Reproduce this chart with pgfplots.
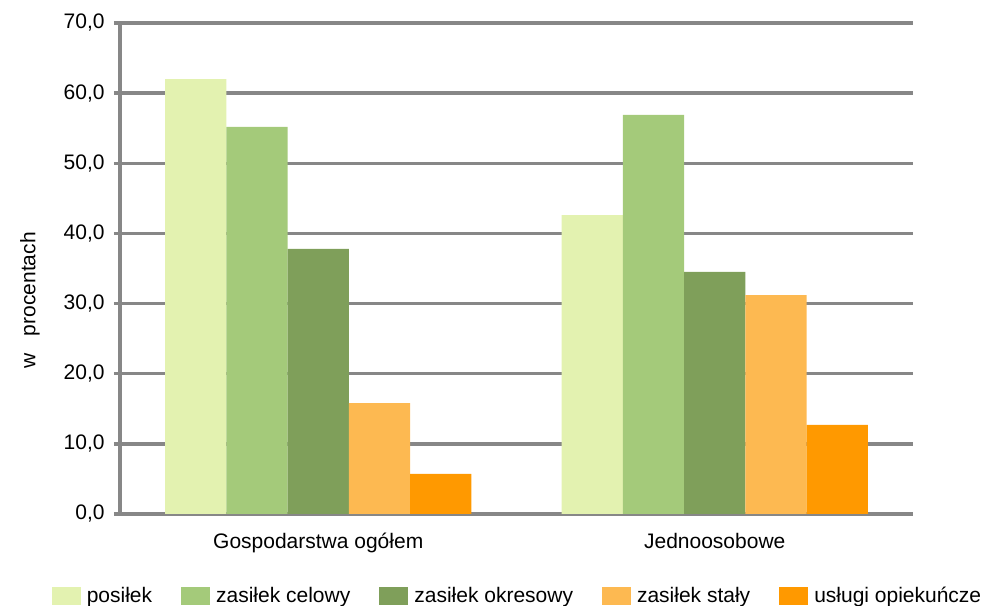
\documentclass[border=0pt]{standalone}
\usepackage{pgfplots}
\pgfplotsset{compat=1.18}
\usepackage{fontspec}
\setmainfont{Liberation Sans}

\definecolor{cPos}{HTML}{E3F2B0}
\definecolor{cCel}{HTML}{A4CA7A}
\definecolor{cOkr}{HTML}{7F9F5A}
\definecolor{cSta}{HTML}{FDB951}
\definecolor{cUsl}{HTML}{FF9900}
\definecolor{cAx}{HTML}{878787}

\begin{document}
\fontsize{10.5}{12.5}\selectfont
\begin{tikzpicture}
\begin{axis}[
    scale only axis,
    width=396.5pt, height=245.5pt,
    ybar=0pt, bar width=0.1544,
    xmin=-0.5, xmax=1.5,
    ymin=0, ymax=70,
    xtick={0,1},
    xticklabels={Gospodarstwa ogółem, Jednoosobowe},
    major x tick style={draw=none},
    extra x ticks={-0.5,0.5,1.5},
    extra x tick labels={},
    extra x tick style={major tick length=3pt, tick style={draw=cAx, line width=1.75pt}},
    ytick={0,10,...,70},
    yticklabel style={xshift=-1pt, /pgf/number format/.cd, fixed, fixed zerofill, precision=1, use comma, assume math mode=true},
    major y tick style={draw=cAx, line width=1.75pt},
    major tick length=3pt,
    tick align=outside,
    ymajorgrids,
    grid style={draw=cAx, line width=1.75pt},
    axis x line*=bottom, axis y line*=left,
    axis line style={draw=cAx, line width=1.75pt},
    xticklabel style={yshift=-3pt},
    ylabel={w\hspace{0.55em} procentach},
    ylabel style={at={(rel axis cs:0,0.5)}, anchor=center, xshift=-16pt, yshift=45pt},
    legend columns=5,
    legend style={at={(0.5,0)}, anchor=center, yshift=-41pt, xshift=1pt, draw=none, fill=none,
        /tikz/every odd column/.append style={column sep=1pt},
        /tikz/every even column/.append style={column sep=12.5pt}},
    legend image code/.code={\fill[#1] (0pt,-4.5pt) rectangle (14.5pt,4.5pt);},
    every axis plot/.append style={draw=none},
]
\addplot[fill=cPos] coordinates {(0,62.0) (1,42.6)};
\addplot[fill=cCel] coordinates {(0,55.2) (1,56.9)};
\addplot[fill=cOkr] coordinates {(0,37.8) (1,34.5)};
\addplot[fill=cSta] coordinates {(0,15.8) (1,31.2)};
\addplot[fill=cUsl] coordinates {(0,5.7) (1,12.7)};
\legend{posiłek, zasiłek celowy, zasiłek okresowy, zasiłek stały, usługi opiekuńcze}
\coordinate (bl) at (rel axis cs:0,0);
\coordinate (tr) at (rel axis cs:1,1);
\end{axis}
\pgfresetboundingbox
\path[use as bounding box] ([xshift=-60pt,yshift=-46pt]bl) rectangle ([xshift=34.5pt,yshift=11.5pt]tr);
\end{tikzpicture}
\end{document}
